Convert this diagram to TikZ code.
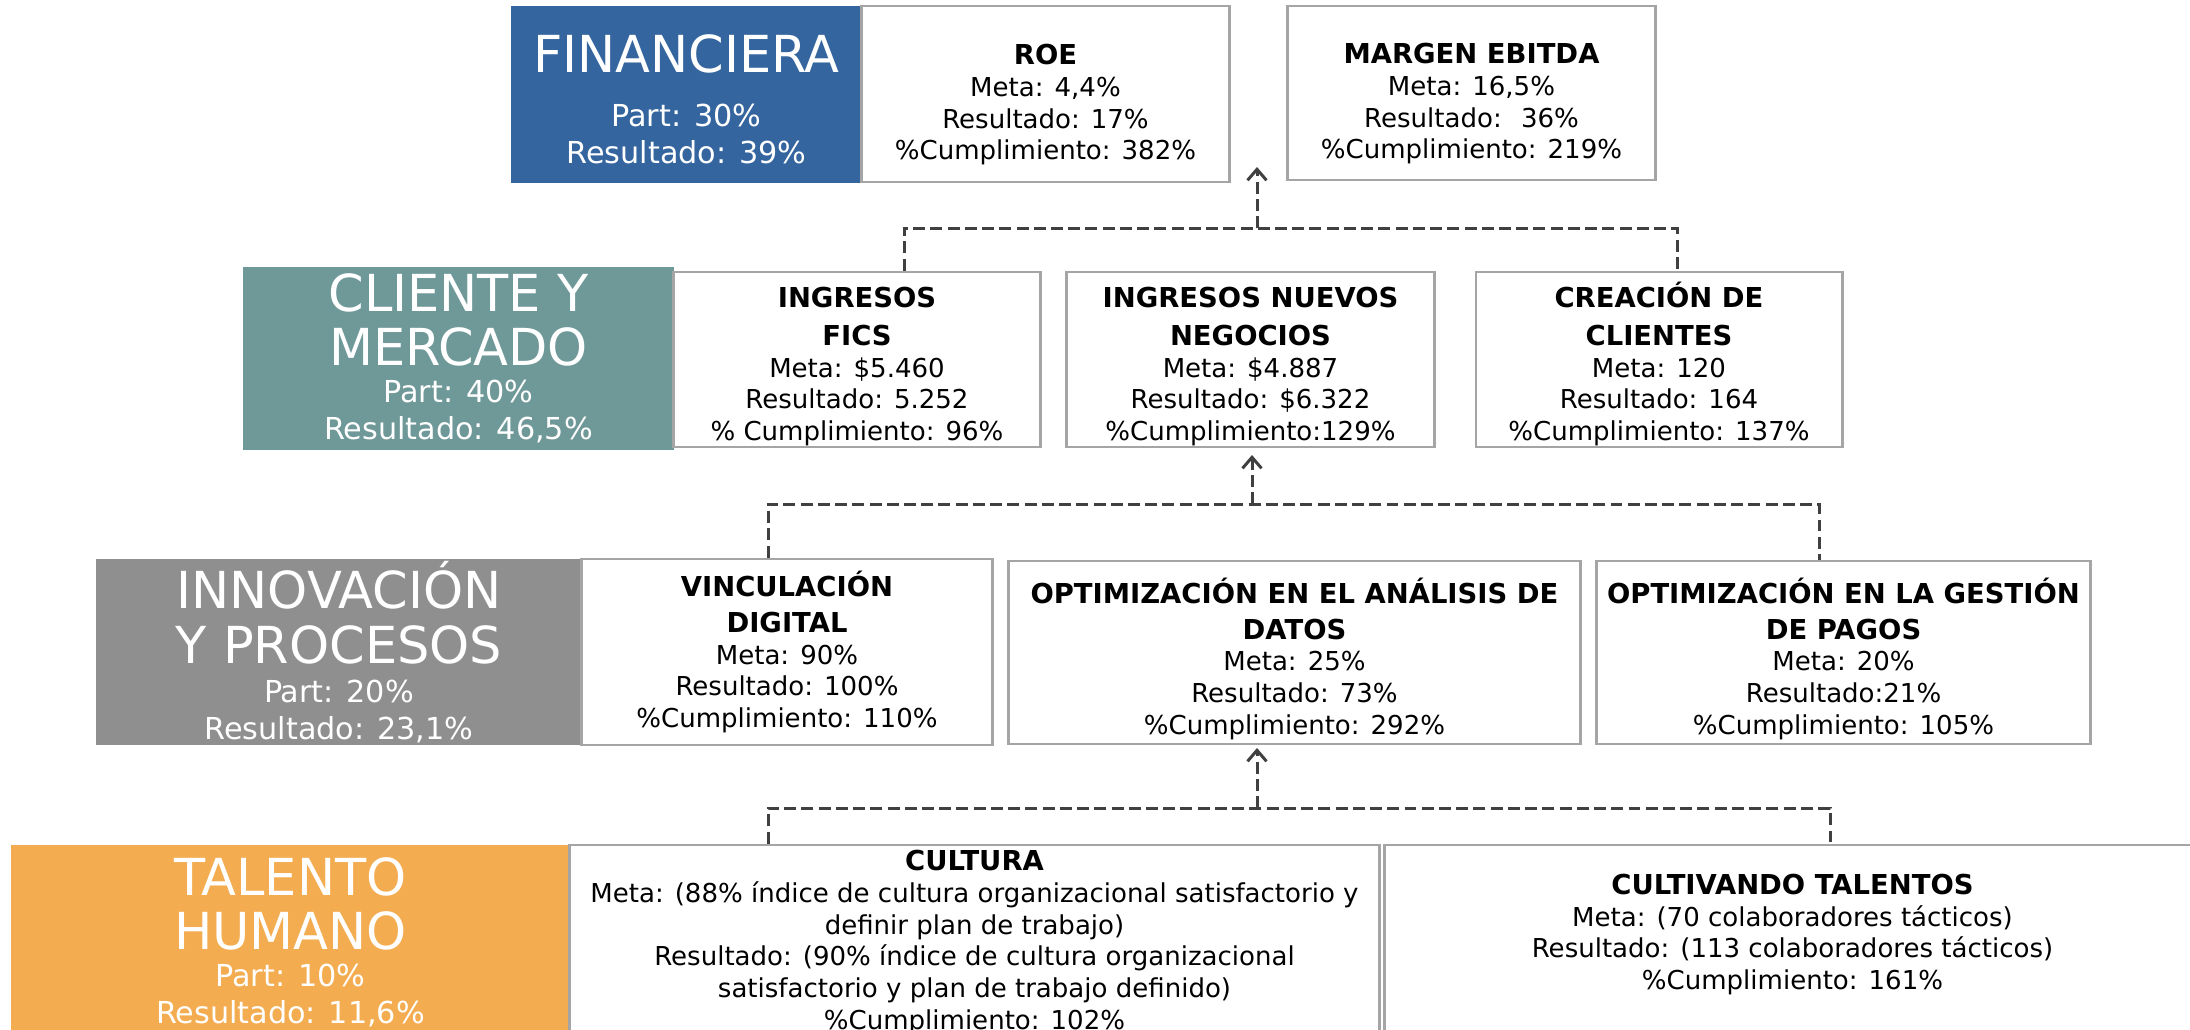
\documentclass[tikz,border=0pt]{standalone}
\usepackage{fontspec}
\setmainfont{DejaVu Sans}
\usepackage{tikz}
\usetikzlibrary{arrows.meta}

\definecolor{finblue}{RGB}{52,101,158}
\definecolor{cliteal}{RGB}{111,152,152}
\definecolor{innovgray}{RGB}{143,143,143}
\definecolor{talorange}{RGB}{244,172,80}
\definecolor{linegray}{RGB}{64,64,64}
\definecolor{boxgray}{RGB}{165,165,165}

\newcommand{\kpi}[1]{{\fontsize{7.8}{9}\selectfont\bfseries #1}}
\newcommand{\cattitle}[1]{{\fontsize{14.5}{15}\selectfont #1}}
\newcommand{\uplift}[1]{\rule{0pt}{#1}}
\newcommand{\downfill}[1]{\rule[-#1]{0pt}{#1}}

\begin{document}
\begin{tikzpicture}[x=0.01cm, y=-0.01cm,
        kpibox/.style={draw=boxgray, line width=0.8pt, fill=white, align=center,
          inner sep=0pt, font=\fontsize{7.4}{9}\selectfont},
        catbox/.style={fill=#1, text=white, align=center, inner sep=0pt,
          font=\fontsize{8.6}{10.5}\selectfont}]
      \tikzstyle{link} = [draw=linegray, line width=0.85pt, dash pattern=on 3.4pt off 1.5pt]
      \tikzstyle{up} = [-{Straight Barb[length=1.1mm,width=1.9mm]}]
      \useasboundingbox (0,0) rectangle (2190,1029);
      \clip (0,0) rectangle (2190,1029);

      \node[catbox=finblue, minimum width=3.51cm, minimum height=1.77cm] (fin) at (686.5,94.5)
        {\uplift{13.4pt}\cattitle{FINANCIERA}\\[5pt]Part: 30\%\\Resultado: 39\%};
      \node[kpibox, minimum width=3.67cm, minimum height=1.76cm] (roe) at (1045.5,94)
        {\uplift{12pt}\kpi{ROE}\\Meta: 4,4\%\\Resultado: 17\%\\\%Cumplimiento: 382\%};
      \node[kpibox, minimum width=3.67cm, minimum height=1.74cm] (ebitda) at (1471.5,93)
        {\uplift{12pt}\kpi{MARGEN EBITDA}\\Meta: 16,5\%\\Resultado: \ 36\%\\\%Cumplimiento: 219\%};

      \node[catbox=cliteal, minimum width=4.31cm, minimum height=1.83cm] (cli) at (458.5,358.5)
        {\cattitle{CLIENTE Y}\\[3.4pt]\cattitle{MERCADO}\\Part: 40\%\\Resultado: 46,5\%};
      \node[kpibox, minimum width=3.66cm, minimum height=1.75cm] (fics) at (857,359.5)
        {\uplift{9.7pt}\kpi{INGRESOS}\\[1.8pt]\kpi{FICS}\\Meta: \$5.460\\Resultado: 5.252\\\% Cumplimiento: 96\%};
      \node[kpibox, minimum width=3.67cm, minimum height=1.75cm] (nuevos) at (1250.5,359.5)
        {\uplift{9.7pt}\kpi{INGRESOS NUEVOS}\\[1.8pt]\kpi{NEGOCIOS}\\Meta: \$4.887\\Resultado: \$6.322\\\%Cumplimiento:129\%};
      \node[kpibox, minimum width=3.66cm, minimum height=1.75cm] (crea) at (1659,359.5)
        {\uplift{9.7pt}\kpi{CREACIÓN DE}\\[1.8pt]\kpi{CLIENTES}\\Meta: 120\\Resultado: 164\\\%Cumplimiento: 137\%};

      \node[catbox=innovgray, minimum width=4.86cm, minimum height=1.86cm] (innov) at (339,652)
        {\cattitle{INNOVACIÓN}\\[3.6pt]\cattitle{Y PROCESOS}\\[0.6pt]Part: 20\%\\Resultado: 23,1\%};
      \node[kpibox, minimum width=4.10cm, minimum height=1.86cm] (vinc) at (787,652)
        {\kpi{VINCULACIÓN}\\[1.2pt]\kpi{DIGITAL}\\Meta: 90\%\\Resultado: 100\%\\\%Cumplimiento: 110\%};
      \node[kpibox, minimum width=5.71cm, minimum height=1.83cm] (optdat) at (1294.5,652.5)
        {\uplift{10.7pt}\kpi{OPTIMIZACIÓN EN EL ANÁLISIS DE}\\[1.2pt]\kpi{DATOS}\\Meta: 25\%\\Resultado: 73\%\\\%Cumplimiento: 292\%};
      \node[kpibox, minimum width=4.93cm, minimum height=1.83cm] (optpag) at (1843.5,652.5)
        {\uplift{10.7pt}\kpi{OPTIMIZACIÓN EN LA GESTIÓN}\\[1.2pt]\kpi{DE PAGOS}\\Meta: 20\%\\Resultado:21\%\\\%Cumplimiento: 105\%};

      \node[catbox=talorange, minimum width=5.59cm, minimum height=1.95cm] (tal) at (290.5,942.5)
        {\cattitle{TALENTO}\\[3.4pt]\cattitle{HUMANO}\\Part: 10\%\\Resultado: 11,6\%};
      \node[kpibox, minimum width=8.09cm, minimum height=1.95cm] (cult) at (974.5,942.5)
        {\kpi{CULTURA}\\Meta: (88\% índice de cultura organizacional satisfactorio y\\definir plan de trabajo)\\Resultado: (90\% índice de cultura organizacional\\satisfactorio y plan de trabajo definido)\\\%Cumplimiento: 102\%};
      \node[kpibox, minimum width=8.15cm, minimum height=1.95cm] (cultiv) at (1792.5,942.5)
        {\kpi{CULTIVANDO TALENTOS}\\Meta: (70 colaboradores tácticos)\\Resultado: (113 colaboradores tácticos)\\\%Cumplimiento: 161\%\downfill{6pt}};

      \coordinate (l12) at (904,228);  \coordinate (r12) at (1677,228);
      \coordinate (m12) at (1257,228); \coordinate (t12) at (1257,167);
      \coordinate (l23) at (768,504);  \coordinate (r23) at (1819,504);
      \coordinate (m23) at (1252,504); \coordinate (t23) at (1252,455);
      \coordinate (l34) at (768,808);  \coordinate (r34) at (1830,808);
      \coordinate (m34) at (1257,808); \coordinate (t34) at (1257,748);

      \draw[link] (l12 |- fics.north) -- (l12) -- (r12) -- (r12 |- crea.north);
      \draw[link, up] (m12) -- (t12);
      \draw[link] (l23 |- vinc.north) -- (l23) -- (r23) -- (r23 |- optpag.north);
      \draw[link, up] (m23) -- (t23);
      \draw[link] (l34 |- cult.north) -- (l34) -- (r34) -- (r34 |- cultiv.north);
      \draw[link, up] (m34) -- (t34);
    \end{tikzpicture}
\end{document}
